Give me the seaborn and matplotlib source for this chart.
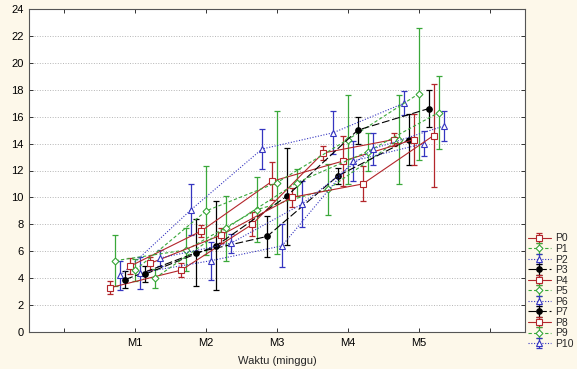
import numpy as np
import pandas as pd
import seaborn as sns
import matplotlib.pyplot as plt
from matplotlib.lines import Line2D

weeks = ["M1", "M2", "M3", "M4", "M5"]
groups = ["P0", "P1", "P2", "P3", "P4", "P5", "P6", "P7", "P8", "P9", "P10"]

# mean values per group, M1..M5
p0 = [3.3, 4.6, 8.0, 13.3, 14.3]
p1 = [5.3, 6.1, 9.1, 10.6, 14.3]
p2 = [4.2, 9.1, 13.6, 14.8, 17.0]
p3 = [3.9, 5.9, 7.1, 11.6, 14.3]
p4 = [4.9, 7.5, 11.2, 12.7, 14.3]
p5 = [4.6, 9.0, 11.1, 14.3, 17.7]
p6 = [4.4, 5.3, 6.4, 12.7, 14.0]
p7 = [4.3, 6.4, 10.1, 15.0, 16.6]
p8 = [5.1, 7.2, 10.0, 11.0, 14.6]
p9 = [4.0, 7.7, 11.1, 13.4, 16.3]
p10 = [5.5, 6.6, 9.5, 13.6, 15.3]

# error bar half-lengths
p0_err = [0.5, 0.5, 0.9, 0.55, 0.5]
p1_err = [1.9, 1.6, 2.4, 1.9, 3.3]
p2_err = [1.1, 1.9, 1.5, 1.6, 0.9]
p3_err = [0.6, 2.5, 1.5, 0.6, 1.9]
p4_err = [0.6, 0.45, 1.4, 1.85, 1.9]
p5_err = [0.8, 3.3, 5.3, 3.3, 4.9]
p6_err = [1.2, 1.4, 1.6, 1.5, 0.9]
p7_err = [0.6, 3.3, 3.6, 1.0, 1.4]
p8_err = [0.5, 0.55, 0.7, 1.3, 3.8]
p9_err = [0.7, 2.4, 1.0, 1.4, 2.7]
p10_err = [0.6, 0.7, 1.7, 1.2, 1.1]

means = [p0, p1, p2, p3, p4, p5, p6, p7, p8, p9, p10]
errs = [p0_err, p1_err, p2_err, p3_err, p4_err, p5_err,
        p6_err, p7_err, p8_err, p9_err, p10_err]

# cycle of 4 styles: red square solid, green diamond dashed, blue triangle dotted, black dot long-dash
styles = [
    ("#b3262b", "-", "s", "white", 4.5),
    ("#3aa83a", (0, (3, 2)), "D", "white", 3.5),
    ("#3535c0", (0, (1, 1.5)), "^", "white", 4.5),
    ("black", (0, (7, 2.5)), "o", "black", 4.0),
]

rows = []
for i, g in enumerate(groups):
    for j, w in enumerate(weeks):
        rows.append({"group": g, "pos": j + 1 + (i - 5) * 0.07,
                     "mean": means[i][j], "err": errs[i][j]})
df = pd.DataFrame(rows)

sns.set_style("ticks")
plt.rcParams["font.family"] = ["Liberation Sans", "DejaVu Sans"]

fig = plt.figure(figsize=(5.77, 3.69), dpi=100)
fig.patch.set_facecolor("#fdf8ea")
ax = fig.add_axes([29 / 577, 37 / 369, 496 / 577, 323 / 369])
ax.set_facecolor("white")

handles = []
for i, g in enumerate(groups):
    c, ls, m, mfc, ms = styles[i % 4]
    sub = df[df["group"] == g]
    sns.lineplot(data=sub, x="pos", y="mean", color=c, linestyle=ls, linewidth=0.8,
                 marker=m, markersize=ms, markerfacecolor=mfc, markeredgecolor=c,
                 markeredgewidth=0.8, errorbar=None, ax=ax, zorder=3)
    eb = ax.errorbar(sub["pos"], sub["mean"], yerr=sub["err"], fmt="none",
                     ecolor=c, elinewidth=0.9, capsize=2, capthick=0.9, zorder=2)
    ln = Line2D([], [], color=c, linestyle=ls, linewidth=0.8, marker=m, markersize=ms,
                markerfacecolor=mfc, markeredgecolor=c, markeredgewidth=0.8)
    handles.append((eb, ln))

ax.set_xlim(-0.5, 6.5)
ax.set_ylim(0, 24)
ax.set_xticks(range(7))
ax.set_xticklabels([""] + weeks + [""])
ax.set_yticks(range(0, 25, 2))
ax.yaxis.grid(True, linestyle=":", color="#b5b5b5", linewidth=0.7)
ax.set_axisbelow(True)
ax.tick_params(direction="in", top=True, right=True, length=3, width=0.7,
               labelsize=8, pad=4, colors="#333333", labelcolor="black")
for s in ax.spines.values():
    s.set_color("#555555")
    s.set_linewidth(0.8)
ax.set_xlabel("Waktu (minggu)", fontsize=8, labelpad=6)
ax.set_ylabel("")

fig.legend(handles, groups, loc="lower left", bbox_to_anchor=(0.915, 0.055),
           frameon=False, fontsize=7.5, handlelength=2.2, labelspacing=0.05,
           handletextpad=0.4, borderpad=0, borderaxespad=0)

fig.savefig("out.png", dpi=100, facecolor=fig.get_facecolor())
